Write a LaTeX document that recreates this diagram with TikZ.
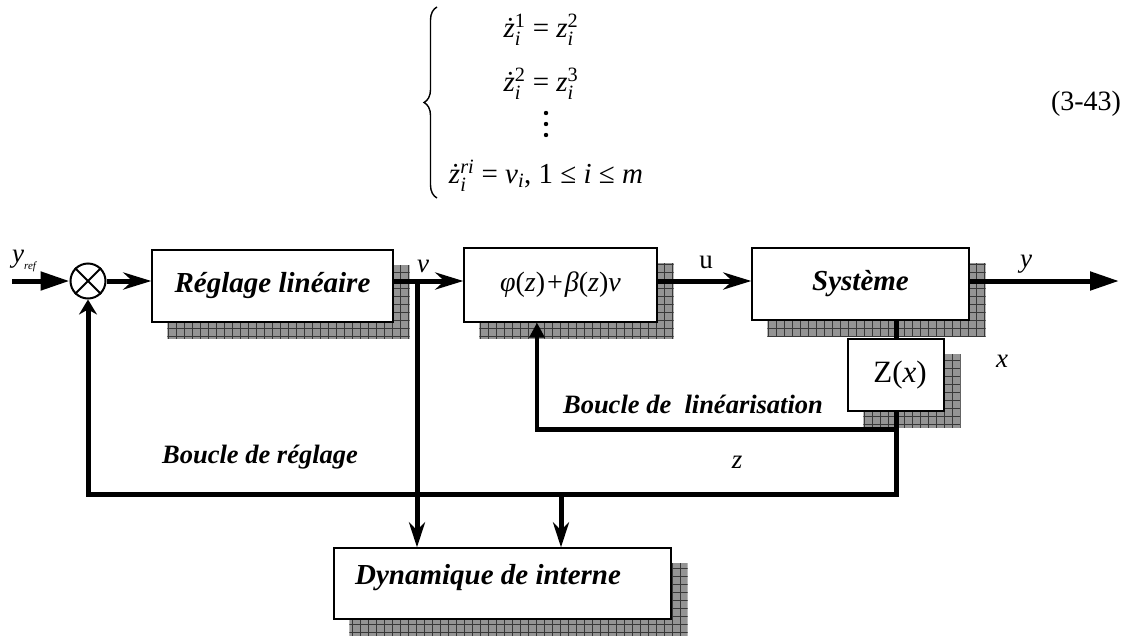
\documentclass[tikz,border=0pt]{standalone}
\usepackage{amsmath}
\usepackage{fontspec}
\setmainfont{Liberation Serif}
\usetikzlibrary{arrows.meta,calc,decorations.pathreplacing}
\pgfdeclarelayer{background}
\pgfsetlayers{background,main}

\newcommand\fsz[1]{\fontsize{#1}{#1}\selectfont}
% variable with stacked superscript and index i
\newcommand\zsup[2]{\textit{#1}$^{\text{#2}}_{\text{\itshape i}}$}

\begin{document}
\begin{tikzpicture}[x=1pt,y=-1pt,
  blk/.style={draw, line width=1.3pt, fill=white, inner sep=0pt},
  blktxt/.style={font=\fsz{29}\bfseries\itshape},
  looptxt/.style={font=\fsz{26.5}\bfseries\itshape, inner sep=0pt},
  sig/.style={font=\fsz{27}\itshape, inner sep=0pt},
  eqtxt/.style={font=\fsz{29}, inner sep=0pt},
  wire/.style={line width=5pt},
  thinwire/.style={line width=3.4pt},
  stl/.style={-{Stealth[length=28pt,width=17pt,inset=9pt]}},
  stldown/.style={-{Stealth[length=25pt,width=16pt,inset=8pt]}},
  stlup/.style={-{Stealth[length=15pt,width=18pt,inset=5pt]}},
  tri/.style={-{Triangle[length=29pt,width=18pt]}},
  trismall/.style={-{Triangle[length=15pt,width=15pt]}},
  shadowfill/.style={fill=black!42},
  shadowgrid/.style={draw=black!78, line width=0.6pt},
]
\useasboundingbox (0,0) rectangle (1142,637);

% ---- equation system ----
\draw[line width=1.4pt, decorate, decoration={brace, amplitude=13pt}]
  (437,198) -- (437,7);
\node[eqtxt, anchor=base] (eq1) at (541,37) {\zsup{ż}{1} = \zsup{z}{2}};
\node[eqtxt, anchor=base] (eq2) at (541,91) {\zsup{ż}{2} = \zsup{z}{3}};
% vertical ellipsis
\foreach \yy in {113,124,135} \fill (546,\yy) circle (2.2pt);
\node[eqtxt, anchor=base] (eq4) at (546,183)
  {\zsup{ż}{\itshape ri} = \textit{v}$_{\text{\itshape i}}$, 1 ≤ \textit{i} ≤ \textit{m}};
\node[font=\fsz{28}, inner sep=0pt] (eqno) at (1086,104) {(3-43)};

% ---- blocks ----
\node[draw, circle, line width=2pt, minimum size=35pt, inner sep=0pt] (sum) at (88,281) {};
\draw[line width=2pt] (sum.north west) -- (sum.south east)
                      (sum.north east) -- (sum.south west);

\node[blk, blktxt, minimum width=241pt, minimum height=72pt] (reg) at (272.5,286) {Réglage linéaire};
\node[blk, font=\fsz{28}, minimum width=193pt, minimum height=74pt] (phi) at (560.5,285)
  {\textit{φ}(\textit{z})\kern2pt+\kern2pt\textit{β}(\textit{z})\textit{v}};
\node[blk, blktxt, minimum width=217pt, minimum height=72pt] (sys) at (860.5,284) {Système};
\node[blk, font=\fsz{31}, minimum width=96pt, minimum height=72pt] (zx) at (896,375) {\kern8pt Z(\textit{x})};
\node[blk, minimum width=337pt, minimum height=71pt] (dyn) at (502.5,583.5) {};
\node[blktxt, inner sep=0pt] (dyntxt) at (488,578) {Dynamique de interne};

% hatched drop shadows behind the blocks
\begin{pgfonlayer}{background}
\foreach \n in {reg,phi,sys,zx,dyn}{
  \begin{scope}
    \clip ($(\n.south west)+(16,16)$) rectangle ($(\n.north east)+(16,16)$);
    \fill[shadowfill] ($(\n.south west)+(16,16)$) rectangle ($(\n.north east)+(16,16)$);
    \draw[shadowgrid, step=8pt] ($(\n.south west)+(16,16)$) grid ($(\n.north east)+(16,16)$);
  \end{scope}
}
\end{pgfonlayer}

% ---- signal labels ----
\node[sig, anchor=base west] (yref) at (12,262) {y\raisebox{-7pt}{\fsz{11}\itshape ref}};
\node[sig] (vlbl) at (423,266) {v};
\node[font=\fsz{27}, inner sep=0pt] (ulbl) at (706,262) {u};
\node[sig] (ylbl) at (1026,264) {y};
\node[sig] (xlbl) at (1002,361) {x};
\node[sig] (zlbl) at (737,462) {z};
\node[looptxt] (lin-lbl) at (693,404) {Boucle de~~linéarisation};
\node[looptxt] (reg-lbl) at (260,457) {Boucle de réglage};

% ---- connectors ----
\coordinate (yin) at (12,281);
\coordinate (yout) at (1119,281);
\coordinate (vj) at (417,281);
\coordinate (lin) at (537,429);
\coordinate (fbl) at (88,494);
\coordinate (zt) at (561,494);

\draw[wire, tri] (yin) -- (sum.west);
\draw[wire, stl] (sum.east) -- (reg.west |- sum);
\draw[wire, stl] (reg.east |- sum) -- (phi.west |- sum);
\draw[wire, stldown] (vj) -- (vj |- dyn.north);
\draw[wire, stl] (phi.east |- sum) -- (sys.west |- sum);
\draw[wire, tri] (sys.east |- sum) -- (yout);
\draw[wire] (sys.south -| zx) -- (zx.north);
\draw[wire, stlup] (zx.south) |- (fbl) -- (sum.south);
\draw[wire, line cap=rect] (zx.south |- lin) -- (lin);
\draw[thinwire, trismall] (lin) -- (lin |- phi.south);
\draw[wire, stldown] (zt) -- (zt |- dyn.north);
\end{tikzpicture}
\end{document}
